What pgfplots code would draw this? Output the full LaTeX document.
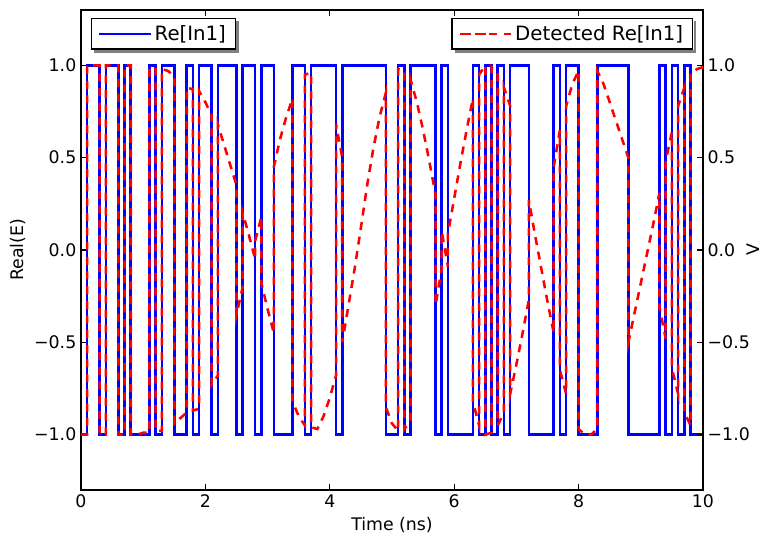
\documentclass[border=0pt]{standalone}
\usepackage{fontspec}
\setmainfont{DejaVu Sans}
\usepackage{pgfplots}
\pgfplotsset{compat=1.18}

\pgfplotsset{
  common/.style={
    at={(0,0)}, anchor=south west,
    scale only axis, width=466.5pt, height=360pt,
    xmin=0, xmax=10, ymin=-1.3, ymax=1.3,
    ytick={-1,-0.5,0,0.5,1},
    yticklabels={−1.0,−0.5,0.0,0.5,1.0},
    tick align=inside, major tick length=4.2pt,
    tick style={black, line width=0.8pt},
    axis line style={black, line width=1pt},
    legend image code/.code={\path (-2.5pt,0pt) -- (36pt,0pt);\draw[#1] (0pt,0pt) -- (22pt,0pt);},
    legend style={draw=black, line width=0.8pt, fill=white,
      inner xsep=5pt, inner ysep=3pt,
      font=\fontsize{14.8pt}{17pt}\selectfont},
  },
}

\begin{document}
\begin{tikzpicture}[font=\fontsize{13pt}{15pt}\selectfont]
\begin{axis}[common,
  xtick={0,2,4,6,8,10}, xticklabels={0,2,4,6,8,10},
  xtick pos=both, xticklabel pos=lower, ytick pos=left,
  xlabel={Time (ns)}, ylabel={Real(E)},
  xlabel style={at={(axis description cs:0.5,0)}, anchor=center, yshift=-26.25pt},
  ylabel style={at={(axis description cs:-0.1008,0.5)}, anchor=center},
  legend style={at={(0.016,0.983)}, anchor=north west, name=legA},
]
\addplot[const plot, blue, line width=1.9pt] coordinates {
(0,-1) (0.1,1) (0.3,-1) (0.4,1) (0.6,-1) (0.7,1) (0.8,-1) (1.1,1) (1.2,-1) (1.3,1)
(1.5,-1) (1.7,1) (1.8,-1) (1.9,1) (2.1,-1) (2.2,1) (2.5,-1) (2.6,1) (2.8,-1) (2.9,1)
(3.1,-1) (3.4,1) (3.6,-1) (3.7,1) (4.1,-1) (4.2,1) (4.9,-1) (5.1,1) (5.2,-1) (5.3,1)
(5.7,-1) (5.8,1) (5.9,-1) (6.3,1) (6.4,-1) (6.5,1) (6.6,-1) (6.7,1) (6.8,-1) (6.9,1)
(7.2,-1) (7.6,1) (7.7,-1) (7.8,1) (8.0,-1) (8.3,1) (8.8,-1) (9.3,1) (9.4,-1) (9.5,1)
(9.6,-1) (9.7,1) (9.8,-1) (10,-1)
};
\addlegendentry{Re[In1]}
\end{axis}
\begin{axis}[common,
  axis x line=none, axis y line*=right,
  ylabel={V},
  ylabel style={at={(axis description cs:1.081,0.5)}, anchor=center},
  legend style={at={(0.984,0.983)}, anchor=north east, name=legB},
]
\addplot[red, line width=1.9pt, dash pattern=on 6pt off 5pt] coordinates {
(0,-1) (0.1,-1) (0.1,1) (0.2,1) (0.3,1) (0.3,-1) (0.4,-1) (0.4,1) (0.5,1) (0.6,1) (0.6,-1)
(0.7,-1) (0.7,1) (0.8,1) (0.8,-1) (0.9,-1) (1.0,-0.99) (1.1,-0.99) (1.1,0.99)
(1.2,0.98) (1.2,-0.98) (1.3,-0.98) (1.3,0.98) (1.4,0.97) (1.5,0.94) (1.5,-0.94)
(1.6,-0.91) (1.7,-0.88) (1.7,0.88) (1.8,0.87) (1.8,-0.87) (1.9,-0.86) (1.9,0.86)
(2.0,0.80) (2.1,0.73) (2.1,-0.73) (2.2,-0.68) (2.2,0.68) (2.3,0.57) (2.4,0.46)
(2.5,0.35) (2.5,-0.35) (2.6,-0.20) (2.6,0.20) (2.7,0.08) (2.8,-0.05) (2.8,0.05)
(2.9,0.18) (2.9,-0.18) (3.0,-0.32) (3.1,-0.45) (3.1,0.45) (3.2,0.60) (3.3,0.72)
(3.4,0.82) (3.4,-0.82) (3.5,-0.90) (3.6,-0.95) (3.6,0.95) (3.7,0.96) (3.7,-0.96)
(3.8,-0.97) (3.9,-0.90) (4.0,-0.80) (4.1,-0.68) (4.1,0.68) (4.2,0.50) (4.2,-0.50)
(4.3,-0.30) (4.4,-0.10) (4.5,0.12) (4.6,0.35) (4.7,0.55) (4.8,0.72) (4.9,0.85)
(4.9,-0.85) (5.0,-0.94) (5.1,-0.98) (5.1,0.98) (5.2,0.97) (5.2,-0.97) (5.3,-0.92)
(5.3,0.92) (5.4,0.80) (5.5,0.65) (5.6,0.48) (5.7,0.30) (5.7,-0.30) (5.8,-0.10)
(5.8,0.10) (5.9,-0.09) (5.9,0.09) (6.0,0.28) (6.1,0.47) (6.2,0.65) (6.3,0.82)
(6.3,-0.82) (6.4,-0.95) (6.4,0.95) (6.5,1.00) (6.5,-1.00) (6.6,-0.99) (6.6,0.99)
(6.7,0.95) (6.7,-0.95) (6.8,-0.88) (6.8,0.88) (6.9,0.78) (6.9,-0.78) (7.0,-0.62)
(7.1,-0.45) (7.2,-0.27) (7.2,0.27) (7.3,0.08) (7.4,-0.10) (7.5,-0.28) (7.6,-0.45)
(7.6,0.45) (7.7,0.65) (7.7,-0.65) (7.8,-0.78) (7.8,0.78) (7.9,0.90) (8.0,0.97)
(8.0,-0.97) (8.1,-1.00) (8.2,-1.00) (8.3,-0.97) (8.3,0.97) (8.4,0.90) (8.5,0.80)
(8.6,0.70) (8.7,0.60) (8.8,0.50) (8.8,-0.50) (8.9,-0.34) (9.0,-0.18) (9.1,-0.02)
(9.2,0.14) (9.3,0.31) (9.3,-0.31) (9.4,-0.48) (9.4,0.48) (9.5,0.64) (9.5,-0.64)
(9.6,-0.78) (9.6,0.78) (9.7,0.88) (9.7,-0.88) (9.8,-0.95) (9.8,0.95) (9.9,0.98)
(10.0,0.99)
};
\addlegendentry{Detected Re[In1]}
\end{axis}
\foreach \L in {legA,legB}{
  \fill[black!50] ([shift={(0.4pt,-2.5pt)}]\L.north east) rectangle ([shift={(2.5pt,-2.5pt)}]\L.south east);
  \fill[black!50] ([shift={(2.5pt,-0.4pt)}]\L.south west) rectangle ([shift={(2.5pt,-2.5pt)}]\L.south east);
}
\pgfresetboundingbox
\useasboundingbox (-60.75pt,-36pt) rectangle (513pt,367.5pt);
\end{tikzpicture}
\end{document}
